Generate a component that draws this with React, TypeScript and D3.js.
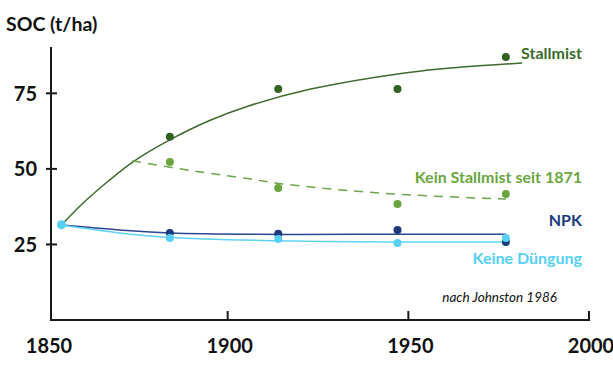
import React, { useEffect, useRef } from 'react';
import * as d3 from 'd3';

// measured years of the soil samples
const years = [1884, 1914, 1947, 1977];
const startYear = 1854;
const startValue = 31.5;

// SOC values (t/ha) per treatment
const stallmist = [60.6, 76.4, 76.4, 87.0];
const keinStallmist = [52.3, 43.7, 38.4, 41.7];
const npk = [28.8, 28.5, 29.8, 25.8];
const keineDuengung = [27.1, 26.8, 25.5, 27.1];

// fitted trend curves as [year, value]
const stallmistFit: [number, number][] = [
  [1854, 31.4], [1860, 38.7], [1867, 46.0], [1874, 52.5], [1884, 59.6], [1895, 66.0],
  [1906, 70.9], [1923, 76.4], [1948, 81.6], [1965, 83.7], [1981.5, 85.0],
];
const keinStallmistFit: [number, number][] = [
  [1873.6, 52.7], [1890, 49.4], [1906, 46.7], [1914, 45.2], [1930, 43.2], [1947, 41.6], [1977, 40.0],
];
const npkFit: [number, number][] = [
  [1854, 31.4], [1870, 29.8], [1884, 28.8], [1919, 28.3], [1947, 28.4], [1977, 28.4],
];
const keineFit: [number, number][] = [
  [1854, 31.4], [1870, 28.8], [1884, 27.3], [1919, 26.1], [1947, 25.8], [1977, 25.8],
];

const xTicks = [1850, 1900, 1950, 2000];
const yTicks = [25, 50, 75];

const FONT = 'Lato, "Open Sans", sans-serif';

const App: React.FC = () => {
  const svgRef = useRef<SVGSVGElement>(null);
  const width = 613;
  const height = 365;

  useEffect(() => {
    if (!svgRef.current) return;
    const svg = d3.select(svgRef.current);
    svg.selectAll('*').remove();

    const x = d3.scaleLinear().domain([1850, 2000]).range([47, 589]);
    const y = d3.scaleLinear().domain([0, 90]).range([320, 48]);
    const axisX = 51;
    const axisColor = '#1a1a1a';

    // axes
    svg.append('line')
      .attr('x1', axisX).attr('x2', axisX)
      .attr('y1', 47).attr('y2', y(0))
      .attr('stroke', axisColor).attr('stroke-width', 2);
    svg.append('line')
      .attr('x1', axisX - 1).attr('x2', x(2000) + 1)
      .attr('y1', y(0)).attr('y2', y(0))
      .attr('stroke', axisColor).attr('stroke-width', 2);

    svg.selectAll('.ytick')
      .data(yTicks)
      .enter()
      .append('line')
      .attr('x1', axisX - 5).attr('x2', axisX + 6)
      .attr('y1', (d) => y(d)).attr('y2', (d) => y(d))
      .attr('stroke', axisColor).attr('stroke-width', 2);

    svg.selectAll('.ylabel')
      .data(yTicks)
      .enter()
      .append('text')
      .attr('x', 37)
      .attr('y', (d) => y(d))
      .attr('dy', '0.36em')
      .attr('text-anchor', 'end')
      .attr('font-family', FONT)
      .attr('font-weight', 'bold')
      .attr('font-size', 20)
      .attr('fill', '#111')
      .text((d) => d);

    svg.selectAll('.xtick')
      .data(xTicks.filter((d) => d > 1850))
      .enter()
      .append('line')
      .attr('x1', (d) => x(d)).attr('x2', (d) => x(d))
      .attr('y1', y(0)).attr('y2', y(0) - 9)
      .attr('stroke', axisColor).attr('stroke-width', 2);

    svg.selectAll('.xlabel')
      .data(xTicks)
      .enter()
      .append('text')
      .attr('x', (d) => x(d) + 2)
      .attr('y', 353)
      .attr('text-anchor', 'middle')
      .attr('font-family', FONT)
      .attr('font-weight', 'bold')
      .attr('font-size', 20)
      .attr('fill', '#111')
      .text((d) => d);

    svg.append('text')
      .attr('x', 6).attr('y', 31)
      .attr('font-family', FONT)
      .attr('font-weight', 'bold')
      .attr('font-size', 19.5)
      .attr('fill', '#111')
      .text('SOC (t/ha)');

    // trend curves
    const line = d3.line<[number, number]>()
      .x((d) => x(d[0]))
      .y((d) => y(d[1]))
      .curve(d3.curveCatmullRom.alpha(0.5));

    const curves = [
      { data: stallmistFit, color: '#3e6b2c', dash: null },
      { data: keinStallmistFit, color: '#6da647', dash: '9,7' },
      { data: npkFit, color: '#2a4690', dash: null },
      { data: keineFit, color: '#5fd3f3', dash: null },
    ];
    curves.forEach((c) => {
      svg.append('path')
        .datum(c.data)
        .attr('fill', 'none')
        .attr('stroke', c.color)
        .attr('stroke-width', 1.5)
        .attr('stroke-dasharray', c.dash)
        .attr('d', line);
    });

    // measured points
    const series = [
      { values: stallmist, color: '#32621f' },
      { values: keinStallmist, color: '#6aa63f' },
      { values: npk, color: '#1b3a7c' },
      { values: keineDuengung, color: '#56d0f5' },
    ];
    series.forEach((s) => {
      svg.selectAll(null)
        .data(s.values)
        .enter()
        .append('circle')
        .attr('cx', (d, i) => x(years[i]))
        .attr('cy', (d) => y(d))
        .attr('r', 4)
        .attr('fill', s.color);
    });

    svg.append('circle')
      .attr('cx', x(startYear))
      .attr('cy', y(startValue))
      .attr('r', 4.5)
      .attr('fill', '#56d0f5');

    // series labels
    const labels = [
      { text: 'Stallmist', y: 53, color: '#3a6a29' },
      { text: 'Kein Stallmist seit 1871', y: 177, color: '#6aa63f' },
      { text: 'NPK', y: 220, color: '#1b3a7c' },
      { text: 'Keine Düngung', y: 258, color: '#56d0f5' },
    ];
    svg.selectAll('.slabel')
      .data(labels)
      .enter()
      .append('text')
      .attr('x', 582)
      .attr('y', (d) => d.y)
      .attr('dy', '0.36em')
      .attr('text-anchor', 'end')
      .attr('font-family', FONT)
      .attr('font-weight', 'bold')
      .attr('font-size', 16)
      .attr('fill', (d) => d.color)
      .text((d) => d.text);

    svg.append('text')
      .attr('x', 557).attr('y', 297)
      .attr('dy', '0.36em')
      .attr('text-anchor', 'end')
      .attr('font-family', FONT)
      .attr('font-style', 'italic')
      .attr('font-size', 13.5)
      .attr('fill', '#111')
      .text('nach Johnston 1986');
  }, []);

  return (
    <div style={{ position: 'absolute', left: 0, top: 0 }}>
      <svg ref={svgRef} width={width} height={height} style={{ display: 'block', background: '#fff' }} />
    </div>
  );
};

export default App;
